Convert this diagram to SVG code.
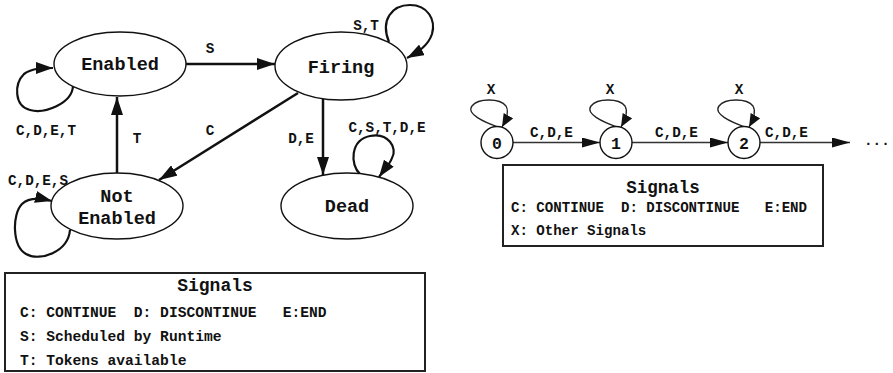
<svg xmlns="http://www.w3.org/2000/svg" width="893" height="373" viewBox="0 0 893 373">
  <style>
    .node { fill: #fff; stroke: #111; stroke-width: 1.4; }
    .lbl { font-family: "Liberation Mono", "DejaVu Sans Mono", monospace; font-weight: bold; fill: #111; }
    .name { font-size: 18.5px; text-anchor: middle; }
    .edge { font-size: 14.3px; }
    .mid { text-anchor: middle; }
    .conn { fill: none; stroke: #111; stroke-width: 2.5; }
    .loop { fill: none; stroke: #111; stroke-width: 2.2; }
    .connR { fill: none; stroke: #333; stroke-width: 1.6; }
    .loopR { fill: none; stroke: #222; stroke-width: 1.3; }
    .box { fill: #fff; stroke: #222; stroke-width: 2; }
  </style>
  <defs>
    <marker id="head" markerUnits="userSpaceOnUse" markerWidth="18" markerHeight="12" refX="18" refY="6" orient="auto">
      <path d="M0,0 L18,6 L0,12 z" fill="#111"/>
    </marker>
    <marker id="headLoop" markerUnits="userSpaceOnUse" markerWidth="17" markerHeight="12" refX="17" refY="6" orient="auto">
      <path d="M0,0 L17,6 L0,12 z" fill="#111"/>
    </marker>
    <marker id="headR" markerUnits="userSpaceOnUse" markerWidth="18" markerHeight="10" refX="18" refY="5" orient="auto">
      <path d="M0,0 L18,5 L0,10 z" fill="#111"/>
    </marker>
    <marker id="headLoopR" markerUnits="userSpaceOnUse" markerWidth="13" markerHeight="11" refX="13" refY="5.5" orient="auto">
      <path d="M0,0 L13,5.5 L0,11 z" fill="#111"/>
    </marker>
  </defs>

  <!-- Token state machine -->
  <g id="connectors">
    <path class="conn" d="M186,64 L275,64" marker-end="url(#head)"/>
    <path class="conn" d="M117,173 L117,97" marker-end="url(#head)"/>
    <path class="conn" d="M298,93 L159,180" marker-end="url(#head)"/>
    <path class="conn" d="M323,99 L323,175" marker-end="url(#head)"/>
    <path class="loop" d="M73,86 C72,104 44,114 30,110 C14,106 14,84 24,74 C32,68 44,68 53,68" marker-end="url(#headLoop)"/>
    <path class="loop" d="M70,230 C68,252 40,262 26,254 C12,246 12,214 22,204 C28,198 40,198 52,201" marker-end="url(#headLoop)"/>
    <path class="loop" d="M389,42 C380,20 392,5 410,5 C428,5 436,20 432,34 C428,46 418,52 407,58" marker-end="url(#headLoop)"/>
    <path class="loop" d="M360,174 C350,165 350,140 370,136 C388,132 398,148 392,158 C390,164 384,170 379,177" marker-end="url(#headLoop)"/>

    <text class="lbl edge mid" x="210" y="53">S</text>
    <text class="lbl edge mid" x="137" y="143">T</text>
    <text class="lbl edge mid" x="210" y="135">C</text>
    <text class="lbl edge mid" x="301" y="143">D,E</text>
    <text class="lbl edge mid" x="46" y="135">C,D,E,T</text>
    <text class="lbl edge mid" x="38" y="185">C,D,E,S</text>
    <text class="lbl edge mid" x="366" y="30">S,T</text>
    <text class="lbl edge mid" x="387" y="132">C,S,T,D,E</text>
  </g>

  <g id="enabled">
    <ellipse class="node" cx="120" cy="64" rx="66" ry="32"/>
    <text class="lbl name" x="120" y="70">Enabled</text>
  </g>
  <g id="firing">
    <ellipse class="node" cx="341" cy="66" rx="66" ry="34"/>
    <text class="lbl name" x="341" y="73">Firing</text>
  </g>
  <g id="not-enabled">
    <ellipse class="node" cx="117" cy="206" rx="66" ry="33"/>
    <text class="lbl name" x="117" y="202">Not</text>
    <text class="lbl name" x="117" y="224">Enabled</text>
  </g>
  <g id="dead">
    <ellipse class="node" cx="347" cy="206" rx="66" ry="33"/>
    <text class="lbl name" x="347" y="212">Dead</text>
  </g>

  <g id="legend-left">
    <rect class="box" x="5" y="273" width="420" height="98"/>
    <text class="lbl" x="215" y="291" font-size="18" text-anchor="middle">Signals</text>
    <text class="lbl" x="20" y="316.5" font-size="14.6" xml:space="preserve">C: CONTINUE  D: DISCONTINUE   E:END</text>
    <text class="lbl" x="20" y="341" font-size="14.6">S: Scheduled by Runtime</text>
    <text class="lbl" x="20" y="365" font-size="14.6">T: Tokens available</text>
  </g>

  <!-- Counter chain -->
  <g id="connectors-chain">
    <path class="connR" d="M513,142.5 L600,142.5" marker-end="url(#headR)"/>
    <path class="connR" d="M632,142.5 L728,142.5" marker-end="url(#headR)"/>
    <path class="connR" d="M760,142.5 L850,142.5" marker-end="url(#headR)"/>
    <path class="loopR" d="M498,127 C484,122 466,114 472,106 C478,98 500,98 506,106 C509,111 506,120 502,127" marker-end="url(#headLoopR)"/>
    <path class="loopR" d="M617,127 C603,122 585,114 591,106 C597,98 619,98 625,106 C628,111 625,120 621,127" marker-end="url(#headLoopR)"/>
    <path class="loopR" d="M745,127 C731,122 713,114 719,106 C725,98 747,98 753,106 C756,111 753,120 749,127" marker-end="url(#headLoopR)"/>
    <text class="lbl edge" x="530" y="137">C,D,E</text>
    <text class="lbl edge" x="655" y="137">C,D,E</text>
    <text class="lbl edge" x="765" y="137">C,D,E</text>
    <text class="lbl edge mid" x="491" y="94">X</text>
    <text class="lbl edge mid" x="610" y="94">X</text>
    <text class="lbl edge mid" x="739" y="94">X</text>
    <text class="lbl edge" x="864" y="145">...</text>
  </g>

  <g id="state-0">
    <circle class="node" cx="497" cy="142.5" r="16"/>
    <text class="lbl" x="497" y="148.5" font-size="16.5" text-anchor="middle">0</text>
  </g>
  <g id="state-1">
    <circle class="node" cx="616" cy="142.5" r="16"/>
    <text class="lbl" x="616" y="148.5" font-size="16.5" text-anchor="middle">1</text>
  </g>
  <g id="state-2">
    <circle class="node" cx="744" cy="142.5" r="16"/>
    <text class="lbl" x="744" y="148.5" font-size="16.5" text-anchor="middle">2</text>
  </g>

  <g id="legend-right">
    <rect class="box" x="503" y="165" width="320" height="81"/>
    <text class="lbl" x="663" y="193" font-size="17.5" text-anchor="middle">Signals</text>
    <text class="lbl" x="511" y="212" font-size="14.1" xml:space="preserve">C: CONTINUE  D: DISCONTINUE   E:END</text>
    <text class="lbl" x="511" y="235" font-size="14.1">X: Other Signals</text>
  </g>
</svg>
